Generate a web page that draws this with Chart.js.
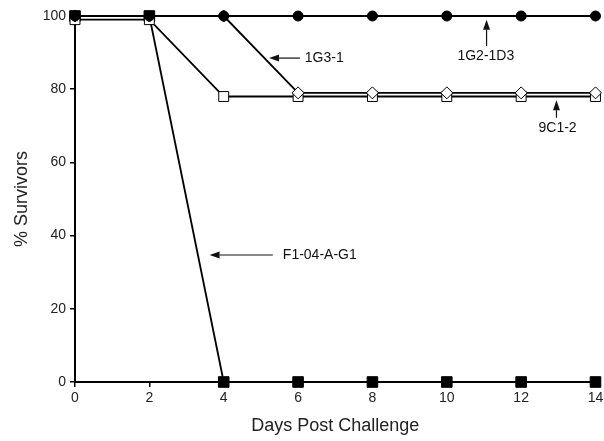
<!DOCTYPE html>
<html>
<head>
<meta charset="utf-8">
<script src="https://cdn.jsdelivr.net/npm/chart.js@4"></script>
<style>
  html, body { margin: 0; padding: 0; background: #fff; }
  #wrap { width: 604px; height: 441px; }
</style>
</head>
<body>
<div id="wrap"><canvas id="survChart" width="604" height="441"></canvas></div>
<script>
// Data
const days = [0, 2, 4, 6, 8, 10, 12, 14];
const s1G2_1D3 = [100, 100, 100, 100, 100, 100, 100, 100];
const s1G3_1 = [100, 100, 100, 79, 79, 79, 79, 79];
const s9C1_2 = [99, 99, 78, 78, 78, 78, 78, 78];
const sF1_04 = [100, 100, 0, 0, 0, 0, 0, 0];
const xTicks = [0, 2, 4, 6, 8, 10, 12, 14];
const yTicks = [0, 20, 40, 60, 80, 100];

const pts = (ys) => days.map((d, i) => ({ x: d, y: ys[i] }));

// Labels + arrows, in data units
const notes = [
  { text: '1G3-1', tx: 6.18, ty: 88.5, align: 'left', from: [6.05, 88.5], to: [5.22, 88.5] },
  { text: '1G2-1D3', tx: 11.05, ty: 89, align: 'center', from: [11.07, 91.8], to: [11.07, 99.0] },
  { text: '9C1-2', tx: 12.98, ty: 69.4, align: 'center', from: [12.95, 72.2], to: [12.95, 77.0] },
  { text: 'F1-04-A-G1', tx: 5.59, ty: 34.7, align: 'left', from: [5.32, 34.7], to: [3.62, 34.7] }
];

const FONT = '"Liberation Sans", Arial, sans-serif';

const notePlugin = {
  id: 'notes',
  afterDatasetsDraw(chart) {
    const { ctx, scales: { x, y } } = chart;
    ctx.save();
    ctx.fillStyle = '#111';
    ctx.strokeStyle = '#111';
    ctx.lineWidth = 1.2;
    ctx.font = '14px ' + FONT;
    ctx.textBaseline = 'middle';
    notes.forEach(n => {
      ctx.textAlign = n.align;
      ctx.fillText(n.text, x.getPixelForValue(n.tx), y.getPixelForValue(n.ty));
      const x1 = x.getPixelForValue(n.from[0]), y1 = y.getPixelForValue(n.from[1]);
      const x2 = x.getPixelForValue(n.to[0]), y2 = y.getPixelForValue(n.to[1]);
      const ang = Math.atan2(y2 - y1, x2 - x1);
      const hl = 10, hw = 3.5;
      const bx = x2 - hl * Math.cos(ang), by = y2 - hl * Math.sin(ang);
      ctx.beginPath();
      ctx.moveTo(x1, y1);
      ctx.lineTo(bx, by);
      ctx.stroke();
      ctx.beginPath();
      ctx.moveTo(x2, y2);
      ctx.lineTo(bx + hw * Math.sin(ang), by - hw * Math.cos(ang));
      ctx.lineTo(bx - hw * Math.sin(ang), by + hw * Math.cos(ang));
      ctx.closePath();
      ctx.fill();
    });
    ctx.restore();
  }
};

const base = { borderColor: '#000', borderWidth: 1.8, pointBorderColor: '#000', pointBorderWidth: 1, clip: false, tension: 0 };

new Chart(document.getElementById('survChart'), {
  type: 'line',
  data: {
    datasets: [
      { ...base, label: '1G2-1D3', data: pts(s1G2_1D3), pointStyle: 'circle', pointRadius: 5, pointBackgroundColor: '#000' },
      { ...base, label: '1G3-1', data: pts(s1G3_1), pointStyle: 'rectRot', pointRadius: 6, pointBackgroundColor: '#fff' },
      { ...base, label: '9C1-2', data: pts(s9C1_2), pointStyle: 'rect', pointRadius: 7, pointBackgroundColor: '#fff' },
      { ...base, label: 'F1-04-A-G1', data: pts(sF1_04), pointStyle: 'rect', pointRadius: 7.5, pointBackgroundColor: '#000' }
    ]
  },
  options: {
    responsive: false,
    animation: false,
    layout: { padding: { top: 16, right: 8, left: 0, bottom: 0 } },
    plugins: { legend: { display: false }, tooltip: { enabled: false } },
    scales: {
      x: {
        type: 'linear', min: 0, max: 14,
        afterBuildTicks: (s) => { s.ticks = xTicks.map(v => ({ value: v })); },
        afterFit: (s) => { s.height = 59; s.paddingRight = 0; s.paddingLeft = 0; },
        grid: { drawOnChartArea: false, drawTicks: true, tickLength: 5, color: '#000', lineWidth: 1.5 },
        border: { color: '#000', width: 2 },
        ticks: { color: '#222', padding: 3, font: { family: FONT, size: 14 } },
        title: { display: true, text: 'Days Post Challenge', color: '#222', padding: { top: 7 }, font: { family: FONT, size: 18 } }
      },
      y: {
        min: 0, max: 100,
        afterBuildTicks: (s) => { s.ticks = yTicks.map(v => ({ value: v })); },
        afterFit: (s) => { s.width = 75; s.paddingTop = 0; s.paddingBottom = 0; },
        grid: { drawOnChartArea: false, drawTicks: true, tickLength: 5, color: '#000', lineWidth: 1.5 },
        border: { color: '#000', width: 2 },
        ticks: { color: '#222', padding: 4, font: { family: FONT, size: 14 } },
        title: { display: true, text: '% Survivors', color: '#222', padding: { top: 11, bottom: 12 }, font: { family: FONT, size: 18 } }
      }
    }
  },
  plugins: [notePlugin]
});
</script>
</body>
</html>
